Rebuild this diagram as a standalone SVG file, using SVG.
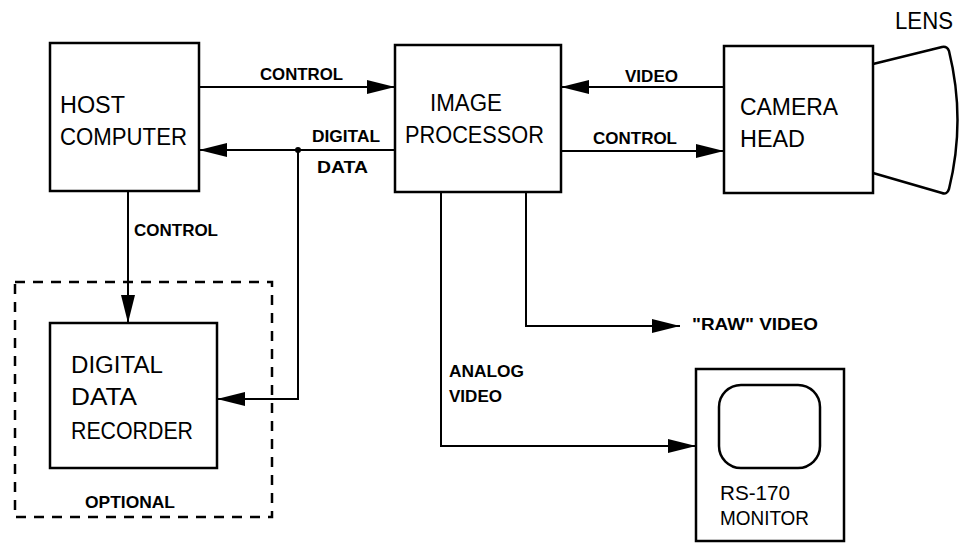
<svg xmlns="http://www.w3.org/2000/svg" width="960" height="543" viewBox="0 0 960 543">
<style>
.box{fill:none;stroke:#000;stroke-width:2.5}
.ln{fill:none;stroke:#000;stroke-width:2}
.big{font-family:"Liberation Sans",Arial,sans-serif;font-size:23px;fill:#000}
.mon{font-family:"Liberation Sans",Arial,sans-serif;font-size:21px;fill:#000}
.sm{font-family:"Liberation Sans",Arial,sans-serif;font-size:16.5px;font-weight:bold;fill:#000}
</style>
<defs>
<marker id="ah" viewBox="0 0 28 14" refX="28" refY="7" markerWidth="28" markerHeight="14" markerUnits="userSpaceOnUse" orient="auto">
<path d="M0,0 L28,7 L0,14 Z" fill="#000"/>
</marker>
</defs>
<rect width="960" height="543" fill="#fff"/>
<g id="host">
<rect class="box" x="50" y="43" width="149" height="148"/>
<text class="big" x="60" y="113" textLength="65" lengthAdjust="spacingAndGlyphs">HOST</text>
<text class="big" x="60" y="145" textLength="127" lengthAdjust="spacingAndGlyphs">COMPUTER</text>
</g>
<g id="processor">
<rect class="box" x="395" y="45" width="166" height="147"/>
<text class="big" x="430" y="111" textLength="72" lengthAdjust="spacingAndGlyphs">IMAGE</text>
<text class="big" x="405" y="143" textLength="139" lengthAdjust="spacingAndGlyphs">PROCESSOR</text>
</g>
<g id="camera">
<rect class="box" x="724" y="46" width="149" height="147"/>
<text class="big" x="740" y="115" textLength="98" lengthAdjust="spacingAndGlyphs">CAMERA</text>
<text class="big" x="740" y="147" textLength="65" lengthAdjust="spacingAndGlyphs">HEAD</text>
</g>
<g id="lens">
<path class="box" d="M873,64 L942,47 Q947,46 949,51 Q966,120 949,189 Q947,195 942,193 L873,173"/>
<text class="big" x="895" y="29" textLength="58" lengthAdjust="spacingAndGlyphs">LENS</text>
</g>
<g id="recorder">
<rect class="box" x="50" y="323" width="167" height="145"/>
<text class="big" x="71" y="373" textLength="92" lengthAdjust="spacingAndGlyphs">DIGITAL</text>
<text class="big" x="71" y="405" textLength="66" lengthAdjust="spacingAndGlyphs">DATA</text>
<text class="big" x="71" y="439" textLength="122" lengthAdjust="spacingAndGlyphs">RECORDER</text>
</g>
<g id="optional">
<rect x="15" y="282" width="257" height="235" fill="none" stroke="#000" stroke-width="2.5" stroke-dasharray="10,8"/>
<text class="sm" x="85" y="508" textLength="90" lengthAdjust="spacingAndGlyphs">OPTIONAL</text>
</g>
<g id="monitor">
<rect class="box" x="696" y="369" width="148" height="172"/>
<rect class="box" x="719" y="385" width="101" height="83" rx="22" ry="22"/>
<text class="mon" x="720" y="500" textLength="70" lengthAdjust="spacingAndGlyphs">RS-170</text>
<text class="mon" x="720" y="525" textLength="89" lengthAdjust="spacingAndGlyphs">MONITOR</text>
</g>
<g id="rawvideo">
<text class="sm" x="692" y="330" textLength="126" lengthAdjust="spacingAndGlyphs">"RAW" VIDEO</text>
</g>
<g id="connectors">
<line class="ln" x1="199" y1="87" x2="395" y2="87" marker-end="url(#ah)"/>
<line class="ln" x1="395" y1="150" x2="199" y2="150" marker-end="url(#ah)"/>
<circle cx="298" cy="150" r="3" fill="#000"/>
<polyline class="ln" points="298,150 298,399 217,399" marker-end="url(#ah)"/>
<line class="ln" x1="128" y1="191" x2="128" y2="323" marker-end="url(#ah)"/>
<line class="ln" x1="724" y1="87" x2="561" y2="87" marker-end="url(#ah)"/>
<line class="ln" x1="561" y1="151" x2="724" y2="151" marker-end="url(#ah)"/>
<polyline class="ln" points="526,192 526,326 680,326" marker-end="url(#ah)"/>
<polyline class="ln" points="441,192 441,446 696,446" marker-end="url(#ah)"/>
<text class="sm" x="260" y="80" textLength="83" lengthAdjust="spacingAndGlyphs">CONTROL</text>
<text class="sm" x="312" y="142" textLength="68" lengthAdjust="spacingAndGlyphs">DIGITAL</text>
<text class="sm" x="317" y="173" textLength="51" lengthAdjust="spacingAndGlyphs">DATA</text>
<text class="sm" x="625" y="82" textLength="53" lengthAdjust="spacingAndGlyphs">VIDEO</text>
<text class="sm" x="593" y="144" textLength="84" lengthAdjust="spacingAndGlyphs">CONTROL</text>
<text class="sm" x="134" y="236" textLength="84" lengthAdjust="spacingAndGlyphs">CONTROL</text>
<text class="sm" x="449" y="377" textLength="75" lengthAdjust="spacingAndGlyphs">ANALOG</text>
<text class="sm" x="449" y="402" textLength="53" lengthAdjust="spacingAndGlyphs">VIDEO</text>
</g>
</svg>
